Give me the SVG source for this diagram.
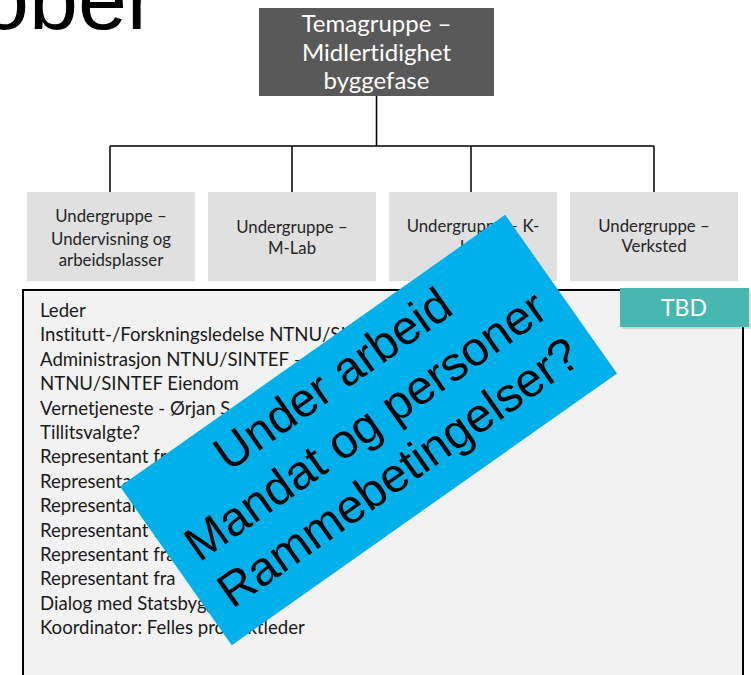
<svg xmlns="http://www.w3.org/2000/svg" width="751" height="675" viewBox="0 0 751 675">
<style>
text{font-variant-ligatures:none}
.sub{fill:#e0e0e0}
.subt{font-family:Lato,"Noto Sans",sans-serif;font-size:16.8px;fill:#262626;text-anchor:middle}
.lst{font-family:Lato,"Noto Sans",sans-serif;font-size:18.6px;fill:#1a1a1a}
.con{stroke:#000;stroke-width:1.5;fill:none}
.ban{font-family:"Liberation Sans",Arial,sans-serif;font-size:48px;fill:#000;text-anchor:middle}
</style>
<rect width="751" height="675" fill="#fff"/>
<text x="-20" y="29" font-family="'Liberation Sans',Arial,sans-serif" font-size="88" fill="#000">ober</text>
<g id="connectors">
<path class="con" d="M376.5 96V146M110 146H654M110 146V192M292 146V192M471 146V192M654 146V192"/>
</g>
<g id="top">
<rect x="259" y="8" width="235" height="88" fill="#595959"/>
<text font-family="Lato,'Noto Sans',sans-serif" font-size="24" fill="#fff" text-anchor="middle"><tspan x="376.5" y="32">Temagruppe –</tspan><tspan x="376.5" y="60.5">Midlertidighet</tspan><tspan x="376.5" y="89">byggefase</tspan></text>
</g>
<g id="sub1"><rect class="sub" x="27" y="192" width="168" height="89"/><text class="subt"><tspan x="111" y="222">Undergruppe –</tspan><tspan x="111" y="245">Undervisning og</tspan><tspan x="111" y="266">arbeidsplasser</tspan></text></g>
<g id="sub2"><rect class="sub" x="208" y="192" width="168" height="89"/><text class="subt"><tspan x="292" y="233">Undergruppe –</tspan><tspan x="292" y="254">M-Lab</tspan></text></g>
<g id="sub3"><rect class="sub" x="389" y="192" width="168" height="89"/><text class="subt"><tspan x="473" y="232">Undergruppe – K-</tspan><tspan x="473" y="253">Lab</tspan></text></g>
<g id="sub4"><rect class="sub" x="570" y="192" width="168" height="89"/><text class="subt"><tspan x="654" y="232">Undergruppe –</tspan><tspan x="654" y="252">Verksted</tspan></text></g>
<g id="members">
<rect x="23" y="290" width="720" height="400" fill="#f2f2f2" stroke="#000" stroke-width="2"/>
<text class="lst">
<tspan x="40" y="317">Leder</tspan>
<tspan x="40" y="341.4">Institutt-/Forskningsledelse NTNU/SINTEF</tspan>
<tspan x="40" y="365.8">Administrasjon NTNU/SINTEF –</tspan>
<tspan x="40" y="390.2">NTNU/SINTEF Eiendom</tspan>
<tspan x="40" y="414.6">Vernetjeneste - Ørjan S</tspan>
<tspan x="40" y="439">Tillitsvalgte?</tspan>
<tspan x="40" y="463.4">Representant fra</tspan>
<tspan x="40" y="487.8">Representant fra</tspan>
<tspan x="40" y="512.2">Representant fra</tspan>
<tspan x="40" y="536.6">Representant fra</tspan>
<tspan x="40" y="561">Representant fra</tspan>
<tspan x="40" y="585.4">Representant fra</tspan>
<tspan x="40" y="609.8">Dialog med Statsbygg</tspan>
<tspan x="40" y="634.2">Koordinator: Felles prosjektleder</tspan>
</text>
</g>
<g id="tbd">
<rect x="622" y="290" width="129" height="39" fill="#000" opacity="0.12"/>
<rect x="620" y="288" width="129" height="39" fill="#47b8b0"/>
<text x="684" y="316" font-family="Lato,'Noto Sans',sans-serif" font-size="23" fill="#fff" text-anchor="middle">TBD</text>
</g>
<g id="banner" transform="translate(368.5 430) rotate(-35.2)">
<rect x="-235.7" y="-97" width="471.4" height="194" fill="#00b0ea"/>
<text class="ban"><tspan x="0" y="-46">Under arbeid</tspan><tspan x="0" y="11">Mandat og personer</tspan><tspan x="0" y="68">Rammebetingelser?</tspan></text>
</g>
</svg>
